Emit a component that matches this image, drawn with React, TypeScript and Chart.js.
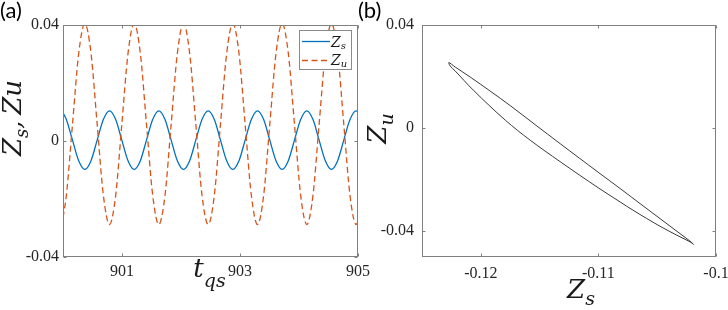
import React, { useEffect, useRef } from "react";
import { Chart, registerables } from "chart.js";

Chart.register(...registerables);

// ---------- Panel (a): time series ----------
const timeQs = [
  900.0, 900.057, 900.161, 900.266,
  900.37, 900.475, 900.579, 900.684,
  900.788, 900.893, 900.997, 901.102,
  901.206, 901.311, 901.415, 901.52,
  901.624, 901.729, 901.833, 901.938,
  902.042, 902.147, 902.251, 902.356,
  902.46, 902.565, 902.669, 902.774,
  902.878, 902.983, 903.087, 903.192,
  903.296, 903.401, 903.505, 903.61,
  903.714, 903.819, 903.923, 904.028,
  904.132, 904.237, 904.341, 904.446,
  904.55, 904.655, 904.759, 904.864,
  904.968, 905.0,
];
const zsSeries = [
  0.0097, 0.0074, 0.0003, -0.0068,
  -0.0098, -0.0068, 0.0003, 0.0074,
  0.0104, 0.0074, 0.0003, -0.0068,
  -0.0098, -0.0068, 0.0003, 0.0074,
  0.0104, 0.0074, 0.0003, -0.0068,
  -0.0098, -0.0068, 0.0003, 0.0074,
  0.0104, 0.0074, 0.0003, -0.0068,
  -0.0098, -0.0068, 0.0003, 0.0074,
  0.0104, 0.0074, 0.0003, -0.0068,
  -0.0098, -0.0068, 0.0003, 0.0074,
  0.0104, 0.0074, 0.0003, -0.0068,
  -0.0098, -0.0068, 0.0003, 0.0074,
  0.0104, 0.0101,
];
const zuSeries = [
  -0.0265, -0.0187, 0.0058, 0.0302,
  0.0405, 0.0302, 0.0058, -0.0187,
  -0.0288, -0.0187, 0.0058, 0.0302,
  0.0405, 0.0302, 0.0058, -0.0187,
  -0.0288, -0.0187, 0.0058, 0.0302,
  0.0405, 0.0302, 0.0058, -0.0187,
  -0.0288, -0.0187, 0.0058, 0.0302,
  0.0405, 0.0302, 0.0058, -0.0187,
  -0.0288, -0.0187, 0.0058, 0.0302,
  0.0405, 0.0302, 0.0058, -0.0187,
  -0.0288, -0.0187, 0.0058, 0.0302,
  0.0405, 0.0302, 0.0058, -0.0187,
  -0.0288, -0.0278,
];
const timeTicks = [901, 903, 905];
const zTicksA = [-0.04, 0, 0.04];

// ---------- Panel (b): phase portrait ----------
const loopZs = [
  -0.11538, -0.11325, -0.11002, -0.10815, -0.10646, -0.10476, -0.10306, -0.10221, -0.10191,
  -0.10221, -0.10306, -0.10476, -0.10705, -0.10815, -0.11002, -0.11325, -0.1158, -0.11792,
  -0.12064, -0.12217, -0.1226, -0.12272, -0.12217, -0.1209, -0.1192, -0.1175, -0.11538,
];
const loopZu = [
  0.00134, -0.00604, -0.01711, -0.02344, -0.02927, -0.0351, -0.04093, -0.04384, -0.04508,
  -0.04411, -0.04217, -0.03808, -0.03187, -0.02865, -0.02313, -0.01303, -0.00468, 0.00309,
  0.01475, 0.02213, 0.02407, 0.02543, 0.02368, 0.0198, 0.01436, 0.00873, 0.00134,
];
const zsTicksB = [-0.12, -0.11, -0.1];
const zuTicksB = [-0.04, 0, 0.04];

const BLUE = "#0072BD";
const ORANGE = "#D95319";
const MATH_FONT = "'DejaVu Serif', serif";
const TICK_FONT = "'Liberation Serif', 'Times New Roman', serif";
const TICK_COLOR = "#262626";
const FRAME_COLOR = "#808080";

Chart.defaults.font.family = TICK_FONT;

type Part = [string, boolean];

function drawMath(
  ctx: CanvasRenderingContext2D,
  parts: Part[],
  x: number,
  y: number,
  size: number,
  subSize: number,
  subOff: number,
  vertical: boolean,
  align: "center" | "left" = "center"
) {
  ctx.save();
  ctx.translate(x, y);
  if (vertical) ctx.rotate(-Math.PI / 2);
  ctx.textBaseline = "alphabetic";
  ctx.textAlign = "left";
  ctx.fillStyle = "#1a1a1a";
  let total = 0;
  const widths = parts.map(([t, s]) => {
    ctx.font = `italic ${s ? subSize : size}px ${MATH_FONT}`;
    const w = ctx.measureText(t).width;
    total += w;
    return w;
  });
  let cx = align === "center" ? -total / 2 : 0;
  parts.forEach(([t, s], i) => {
    ctx.font = `italic ${s ? subSize : size}px ${MATH_FONT}`;
    ctx.fillText(t, cx, s ? subOff : 0);
    cx += widths[i];
  });
  ctx.restore();
}

function drawFrame(chart: any) {
  const { ctx, chartArea: a, scales } = chart;
  ctx.save();
  ctx.strokeStyle = FRAME_COLOR;
  ctx.lineWidth = 1;
  const L = Math.round(a.left) + 0.5;
  const R = Math.round(a.right) - 0.5;
  const T = Math.round(a.top) + 0.5;
  const B = Math.round(a.bottom) - 0.5;
  ctx.strokeRect(L, T, R - L, B - T);
  const len = 3;
  ctx.beginPath();
  scales.x.ticks.forEach((t: any) => {
    const p = Math.round(scales.x.getPixelForValue(t.value)) + 0.5;
    ctx.moveTo(p, B);
    ctx.lineTo(p, B - len);
    ctx.moveTo(p, T);
    ctx.lineTo(p, T + len);
  });
  scales.y.ticks.forEach((t: any) => {
    const p = Math.round(scales.y.getPixelForValue(t.value)) + 0.5;
    ctx.moveTo(L, p);
    ctx.lineTo(L + len, p);
    ctx.moveTo(R, p);
    ctx.lineTo(R - len, p);
  });
  ctx.stroke();
  ctx.restore();
}

function panelLabel(ctx: CanvasRenderingContext2D, text: string, x: number, y: number) {
  ctx.save();
  ctx.font = "22px Lato, 'Open Sans', sans-serif";
  ctx.fillStyle = "#000";
  ctx.textAlign = "left";
  ctx.textBaseline = "alphabetic";
  ctx.fillText(text, x, y);
  ctx.restore();
}

const fmt = (v: number) => (v === 0 ? "0" : String(v));

function axisCommon(ticks: number[], padding: number) {
  return {
    type: "linear" as const,
    grid: { display: false, drawTicks: false },
    border: { display: false },
    ticks: {
      font: { family: TICK_FONT, size: 16, style: "normal", weight: "normal" },
      color: TICK_COLOR,
      padding,
      maxRotation: 0,
      autoSkip: false,
      callback: (v: any) => fmt(Number(v)),
    },
    afterBuildTicks: (s: any) => {
      s.ticks = ticks.map((v) => ({ value: v }));
    },
  };
}

export default function App() {
  const refA = useRef<HTMLCanvasElement>(null);
  const refB = useRef<HTMLCanvasElement>(null);

  useEffect(() => {
    const decorA = {
      id: "decorA",
      afterDraw(chart: any) {
        const ctx = chart.ctx as CanvasRenderingContext2D;
        drawFrame(chart);
        // legend
        ctx.save();
        ctx.fillStyle = "#fff";
        ctx.fillRect(299, 30, 53, 40);
        ctx.strokeStyle = "#8a8a8a";
        ctx.lineWidth = 1;
        ctx.strokeRect(299.5, 30.5, 52, 39);
        const ds = chart.data.datasets;
        const rows = [41, 60];
        ds.forEach((d: any, i: number) => {
          ctx.beginPath();
          ctx.strokeStyle = d.borderColor;
          ctx.lineWidth = d.borderWidth;
          ctx.setLineDash(d.borderDash || []);
          ctx.moveTo(302, rows[i] + 0.5);
          ctx.lineTo(330, rows[i] + 0.5);
          ctx.stroke();
        });
        ctx.setLineDash([]);
        ctx.restore();
        drawMath(ctx, [["Z", false], ["s", true]], 331, 46.5, 14, 10, 2.5, false, "left");
        drawMath(ctx, [["Z", false], ["u", true]], 331, 64.5, 14, 10, 2.5, false, "left");
        // titles
        drawMath(ctx, [["t", false], ["qs", true]], 209.5, 277, 26, 19, 10, false);
        drawMath(
          ctx,
          [["Z", false], ["s", true], [",", false], [" ", true], ["Z", false], ["u", false]],
          21,
          118,
          26,
          18,
          7,
          true
        );
        panelLabel(ctx, "(a)", 0, 17.5);
      },
    };

    const decorB = {
      id: "decorB",
      afterDraw(chart: any) {
        const ctx = chart.ctx as CanvasRenderingContext2D;
        drawFrame(chart);
        drawMath(ctx, [["Z", false], ["s", true]], 226, 298, 26, 19, 7, false);
        drawMath(ctx, [["Z", false], ["u", true]], 31, 128.5, 26, 19, 7, true);
        panelLabel(ctx, "(b)", 3, 17.5);
      },
    };

    const chartA = new Chart(refA.current as HTMLCanvasElement, {
      type: "line",
      data: {
        datasets: [
          {
            label: "Zs",
            data: timeQs.map((t, i) => ({ x: t, y: zsSeries[i] })),
            borderColor: BLUE,
            borderWidth: 1.3,
            pointRadius: 0,
            cubicInterpolationMode: "monotone",
            fill: false,
            order: 1,
          },
          {
            label: "Zu",
            data: timeQs.map((t, i) => ({ x: t, y: zuSeries[i] })),
            borderColor: ORANGE,
            borderWidth: 1.3,
            borderDash: [6, 3.5],
            pointRadius: 0,
            cubicInterpolationMode: "monotone",
            fill: false,
            order: 0,
          },
        ],
      },
      options: {
        animation: false,
        responsive: false,
        devicePixelRatio: 1,
        events: [],
        layout: { padding: { top: 25, right: 22, left: 0, bottom: 0 } },
        plugins: { legend: { display: false }, tooltip: { enabled: false } },
        scales: {
          x: {
            ...axisCommon(timeTicks, 5),
            min: 900,
            max: 905,
            afterFit: (s: any) => {
              s.height = 53;
              s.paddingLeft = 0;
              s.paddingRight = 0;
            },
          },
          y: {
            ...axisCommon(zTicksA, 4),
            min: -0.04,
            max: 0.04,
            afterFit: (s: any) => {
              s.width = 63;
              s.paddingTop = 0;
              s.paddingBottom = 0;
            },
          },
        },
      } as any,
      plugins: [decorA],
    });

    const chartB = new Chart(refB.current as HTMLCanvasElement, {
      type: "scatter",
      data: {
        datasets: [
          {
            label: "loop",
            data: loopZs.map((x, i) => ({ x, y: loopZu[i] })),
            showLine: true,
            borderColor: "#3a3a3a",
            borderWidth: 1,
            pointRadius: 0,
            tension: 0.35,
            fill: false,
          },
        ],
      },
      options: {
        animation: false,
        responsive: false,
        devicePixelRatio: 1,
        events: [],
        layout: { padding: { top: 25, right: 12, left: 0, bottom: 0 } },
        plugins: { legend: { display: false }, tooltip: { enabled: false } },
        scales: {
          x: {
            ...axisCommon(zsTicksB, 7),
            min: -0.125,
            max: -0.1,
            afterFit: (s: any) => {
              s.height = 53;
              s.paddingLeft = 0;
              s.paddingRight = 0;
            },
          },
          y: {
            ...axisCommon(zuTicksB, 8),
            min: -0.05,
            max: 0.04,
            afterFit: (s: any) => {
              s.width = 67;
              s.paddingTop = 0;
              s.paddingBottom = 0;
            },
          },
        },
      } as any,
      plugins: [decorB],
    });

    return () => {
      chartA.destroy();
      chartB.destroy();
    };
  }, []);

  return (
    <div
      style={{
        position: "absolute",
        left: 0,
        top: 0,
        width: 728,
        height: 310,
        background: "#fff",
        overflow: "hidden",
      }}
    >
      <canvas
        ref={refA}
        width={380}
        height={310}
        style={{ position: "absolute", left: 0, top: 0, width: 380, height: 310 }}
      />
      <canvas
        ref={refB}
        width={373}
        height={310}
        style={{ position: "absolute", left: 355, top: 0, width: 373, height: 310 }}
      />
    </div>
  );
}
